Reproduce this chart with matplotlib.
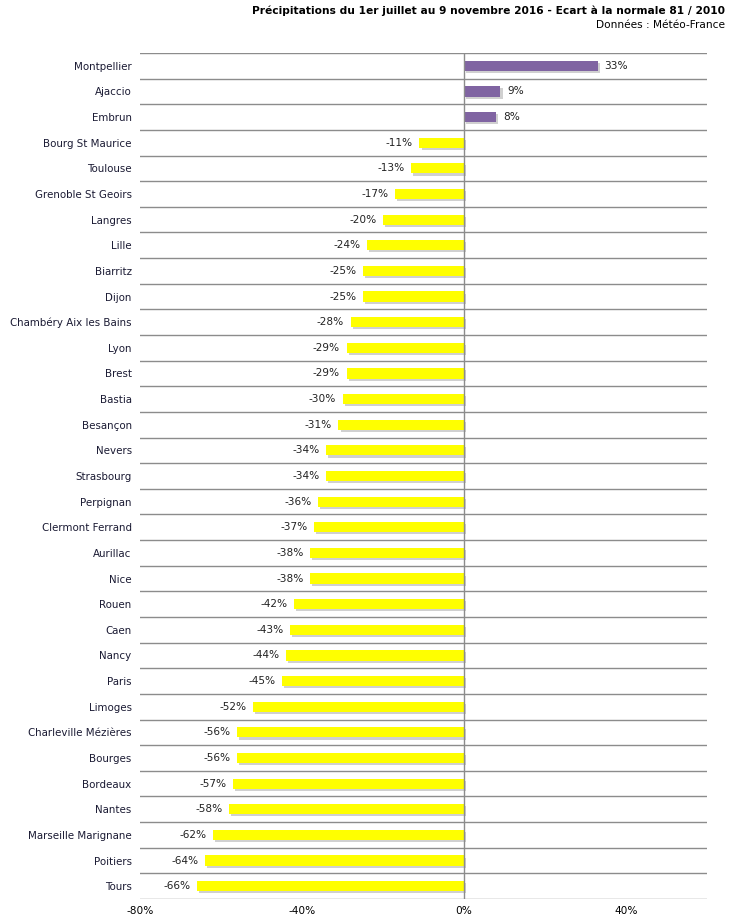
import matplotlib.pyplot as plt
import matplotlib.patheffects as pe

villes = ["Montpellier", "Ajaccio", "Embrun", "Bourg St Maurice", "Toulouse",
          "Grenoble St Geoirs", "Langres", "Lille", "Biarritz", "Dijon",
          "Chambéry Aix les Bains", "Lyon", "Brest", "Bastia", "Besançon",
          "Nevers", "Strasbourg", "Perpignan", "Clermont Ferrand", "Aurillac",
          "Nice", "Rouen", "Caen", "Nancy", "Paris", "Limoges",
          "Charleville Mézières", "Bourges", "Bordeaux", "Nantes",
          "Marseille Marignane", "Poitiers", "Tours"]
ecarts = [33, 9, 8, -11, -13, -17, -20, -24, -25, -25, -28, -29, -29, -30, -31,
          -34, -34, -36, -37, -38, -38, -42, -43, -44, -45, -52, -56, -56, -57,
          -58, -62, -64, -66]
ticks = [-80, -40, 0, 40]

fig = plt.figure(figsize=(7.3, 9.22), dpi=100)
ax = fig.add_axes([140/730, 23/922, 567/730, 846/922])

n = len(villes)
y = list(range(n))
couleurs = ['#8064A2' if v > 0 else '#FFFF00' for v in ecarts]
bars = ax.barh(y, ecarts, height=0.4, color=couleurs, zorder=3)
for b in bars:
    b.set_path_effects([pe.SimplePatchShadow(offset=(1.5, -1.5), shadow_rgbFace='#aaaaaa', alpha=0.55),
                        pe.Normal()])

for i, v in enumerate(ecarts):
    if v > 0:
        ax.text(v + 1.6, i, f"{v}%", va='center', ha='left', fontsize=7.6, color='#222222')
    else:
        ax.text(v - 1.6, i, f"{v}%", va='center', ha='right', fontsize=7.6, color='#222222')

for k in range(n + 1):
    ax.axhline(k - 0.5, color='#8c8c8c', lw=1, zorder=1)
ax.axvline(0, color='#8c8c8c', lw=1, zorder=4)

ax.set_xlim(-80, 60)
ax.set_ylim(n - 0.5, -0.5)
ax.set_yticks(y)
ax.set_yticklabels(villes, fontsize=7.4, color='#1a1a33')
ax.set_xticks(ticks)
ax.set_xticklabels([f"{t}%" for t in ticks], fontsize=7.6)
ax.tick_params(length=0, pad=5)
ax.tick_params(axis='y', pad=6)
for s in ax.spines.values():
    s.set_visible(False)

fig.text(725/730, 1 - 11/922, "Précipitations du 1er juillet au 9 novembre 2016 - Ecart à la normale 81 / 2010",
         ha='right', va='center', fontsize=7.7, fontweight='bold')
fig.text(725/730, 1 - 25/922, "Données : Météo-France", ha='right', va='center', fontsize=7.6)

fig.savefig("out.png", dpi=100)
